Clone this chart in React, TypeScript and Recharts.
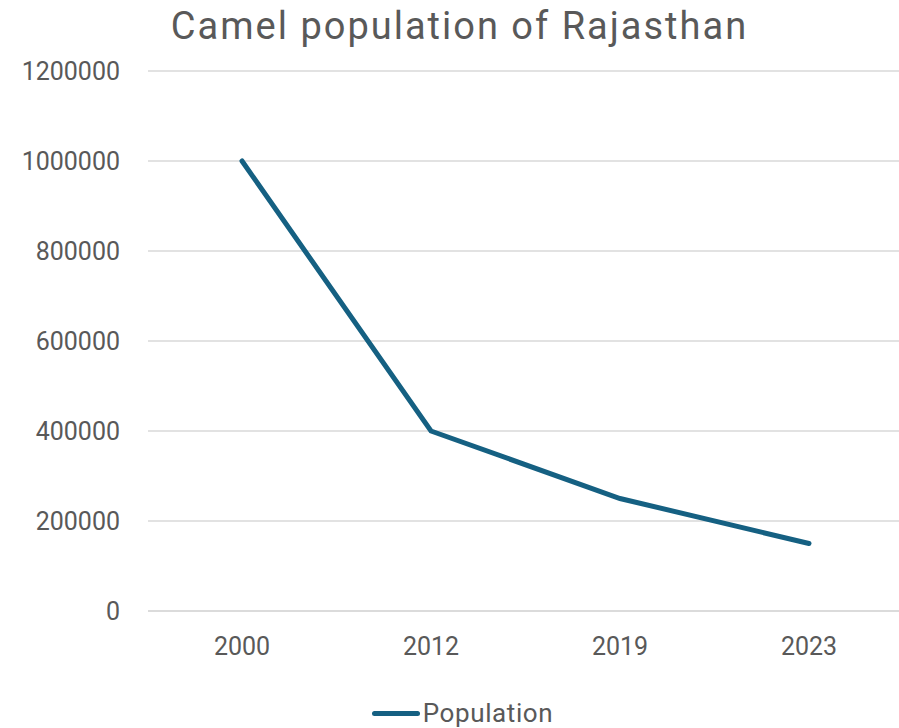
import { LineChart, Line, XAxis, YAxis, CartesianGrid, Legend } from "recharts";

const years = ["2000", "2012", "2019", "2023"];
const population = [1000000, 400000, 250000, 150000];
const yTicks = [0, 200000, 400000, 600000, 800000, 1000000, 1200000];

const data = years.map((year, i) => ({ year, Population: population[i] }));

const TEXT = "#595959";
const LINE = "#156082";
const FONT = "Roboto, sans-serif";

function LegendContent(props: any) {
  const item = props.payload?.[0];
  if (!item) return null;
  return (
    <div style={{ display: "flex", alignItems: "center", justifyContent: "center", paddingLeft: 26, lineHeight: "28px" }}>
      <span style={{ display: "inline-block", width: 48, height: 5, borderRadius: 3, background: item.color, marginRight: 3 }} />
      <span style={{ fontFamily: FONT, fontSize: 26, letterSpacing: 0.6, color: TEXT }}>{item.value}</span>
    </div>
  );
}

export default function App() {
  return (
    <div style={{ position: "absolute", left: 0, top: 0, width: 899, height: 728, overflow: "hidden", background: "#fff" }}>
      <div
        style={{
          position: "absolute",
          left: 0,
          top: 4,
          width: 919,
          textAlign: "center",
          fontFamily: FONT,
          fontSize: 38,
          letterSpacing: 2,
          color: TEXT,
          zIndex: 1,
        }}
      >
        Camel population of Rajasthan
      </div>
      <LineChart width={899} height={728} data={data} margin={{ top: 71, right: -4, left: 0, bottom: 27 }}>
        <CartesianGrid vertical={false} stroke="#d9d9d9" strokeWidth={1.5} />
        <XAxis
          dataKey="year"
          padding={{ left: 94, right: 94 }}
          axisLine={{ stroke: "#d9d9d9", strokeWidth: 1.5 }}
          tickLine={false}
          tickSize={0}
          tickMargin={26}
          height={60}
          tick={{ fill: TEXT, fontSize: 25, fontFamily: FONT }}
        />
        <YAxis
          domain={[0, 1200000]}
          ticks={yTicks}
          width={148}
          axisLine={false}
          tickLine={false}
          tickSize={0}
          tickMargin={28}
          tick={{ fill: TEXT, fontSize: 25, fontFamily: FONT }}
        />
        <Legend height={30} content={<LegendContent />} wrapperStyle={{ top: 699, left: 0, width: 899 }} />
        <Line
          type="linear"
          dataKey="Population"
          stroke={LINE}
          strokeWidth={5}
          strokeLinecap="round"
          dot={false}
          activeDot={false}
          isAnimationActive={false}
        />
      </LineChart>
    </div>
  );
}
